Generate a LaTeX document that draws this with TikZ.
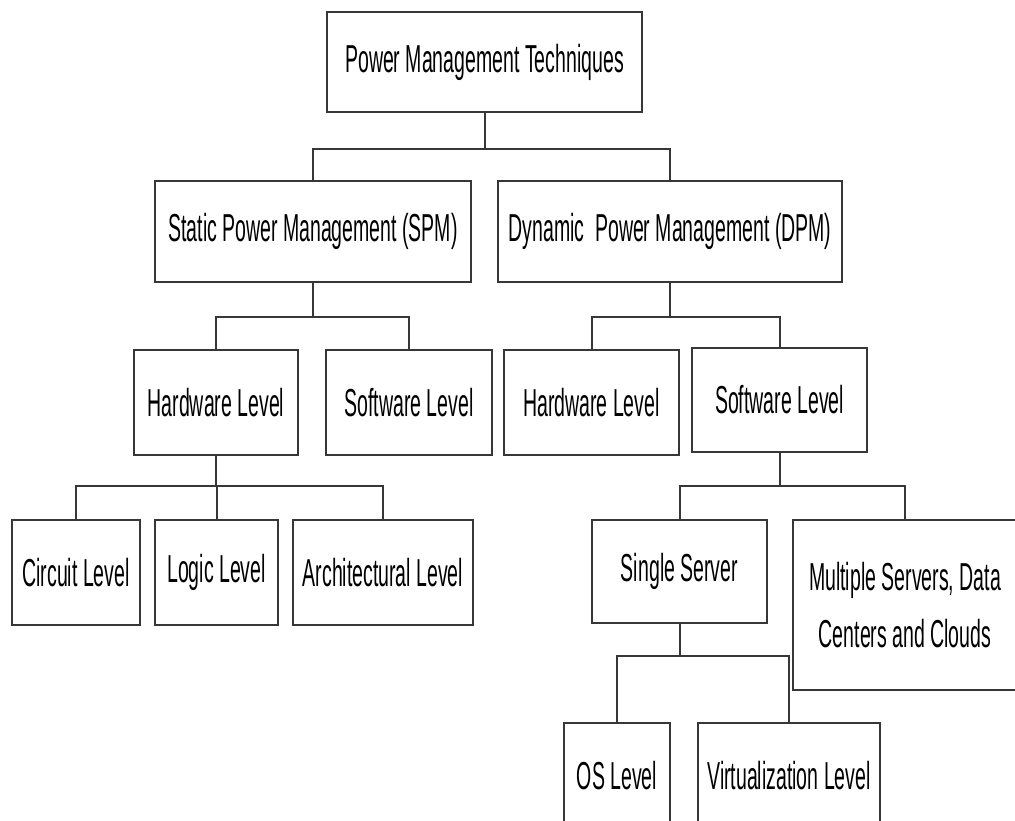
\documentclass[tikz,border=0pt]{standalone}
\usepackage{fontspec}
\newfontfamily\boxfont[FakeStretch=0.5]{Liberation Sans}
\usepackage{tikz}
\usetikzlibrary{positioning}
\usetikzlibrary{calc}
\definecolor{boxline}{RGB}{55,55,55}
\tikzset{
  box/.style={draw=boxline, line width=1pt, rectangle, inner sep=0pt, align=center,
              font=\boxfont\fontsize{19.5}{28.5}\selectfont, text=black},
  boxsize/.style 2 args={minimum width=#1*0.5pt, minimum height=#2*0.5pt},
  link/.style={draw=boxline, line width=1pt}
}

\begin{document}
\begin{tikzpicture}[x=0.5pt, y=-0.5pt]
	\fill[white] (0,0) rectangle (1015,820);
	\clip (0,0) rectangle (1015,820);
	\begin{scope}[every node/.style={box}]
	    \node (root) [boxsize={315}{100}] at (484.5,62) {Power Management Techniques};
	    \node (spm) [boxsize={316}{101}] at (313,231.5) {Static Power Management (SPM)};
	    \node (dpm) [boxsize={344}{101}] at (670,231.5) {Dynamic\ \ Power Management (DPM)};
	    \node (shw) [boxsize={164}{105}] at (216,402.5) {Hardware Level};
	    \node (ssw) [boxsize={166}{105}] at (409,402.5) {Software Level};
	    \node (dhw) [boxsize={175}{105}] at (591.5,402.5) {Hardware Level};
	    \node (dsw) [boxsize={175}{104}] at (779.5,400) {Software Level};
	    \node (circ) [boxsize={128}{105}] at (76,572.5) {Circuit Level};
	    \node (logic) [boxsize={123}{105}] at (216.5,572.5) {Logic Level};
	    \node (arch) [boxsize={180}{105}] at (383,572.5) {Architectural Level};
	    \node (single) [boxsize={175}{103}] at (679.5,571.5) {Single Server};
	    \node (multi) [boxsize={224}{170}] at (905,605) {Multiple Servers, Data\\Centers and Clouds};
	    \node (os) [boxsize={106}{105}] at (617,775.5) {OS Level};
	    \node (virt) [boxsize={182}{105}] at (789,775.5) {Virtualization Level};
	\end{scope}

	\begin{scope}[every path/.style={link}]
	    \draw (root.south) -- ++(0,36) -| (spm.north);
	    \draw (root.south) -- ++(0,36) -| (dpm.north);
	    \draw (spm.south) -- ++(0,34) -| (shw.north);
	    \draw (spm.south) -- ++(0,34) -| (ssw.north);
	    \draw (dpm.south) -- ++(0,34) -| (dhw.north);
	    \draw (dpm.south) -- ++(0,34) -| (dsw.north);
	    \draw (shw.south) -- ++(0,30) -| (circ.north);
	    \draw (shw.south) -- ++(0,30) -| (logic.north);
	    \draw (shw.south) -- ++(0,30) -| (arch.north);
	    \draw (dsw.south) -- ++(0,33) -| (single.north);
	    \draw (dsw.south) -- ++(0,33) -| (multi.north);
	    \draw (single.south) -- ++(0,32) -| (os.north);
	    \draw (single.south) -- ++(0,32) -| (virt.north);
	\end{scope}
\end{tikzpicture}
\end{document}
